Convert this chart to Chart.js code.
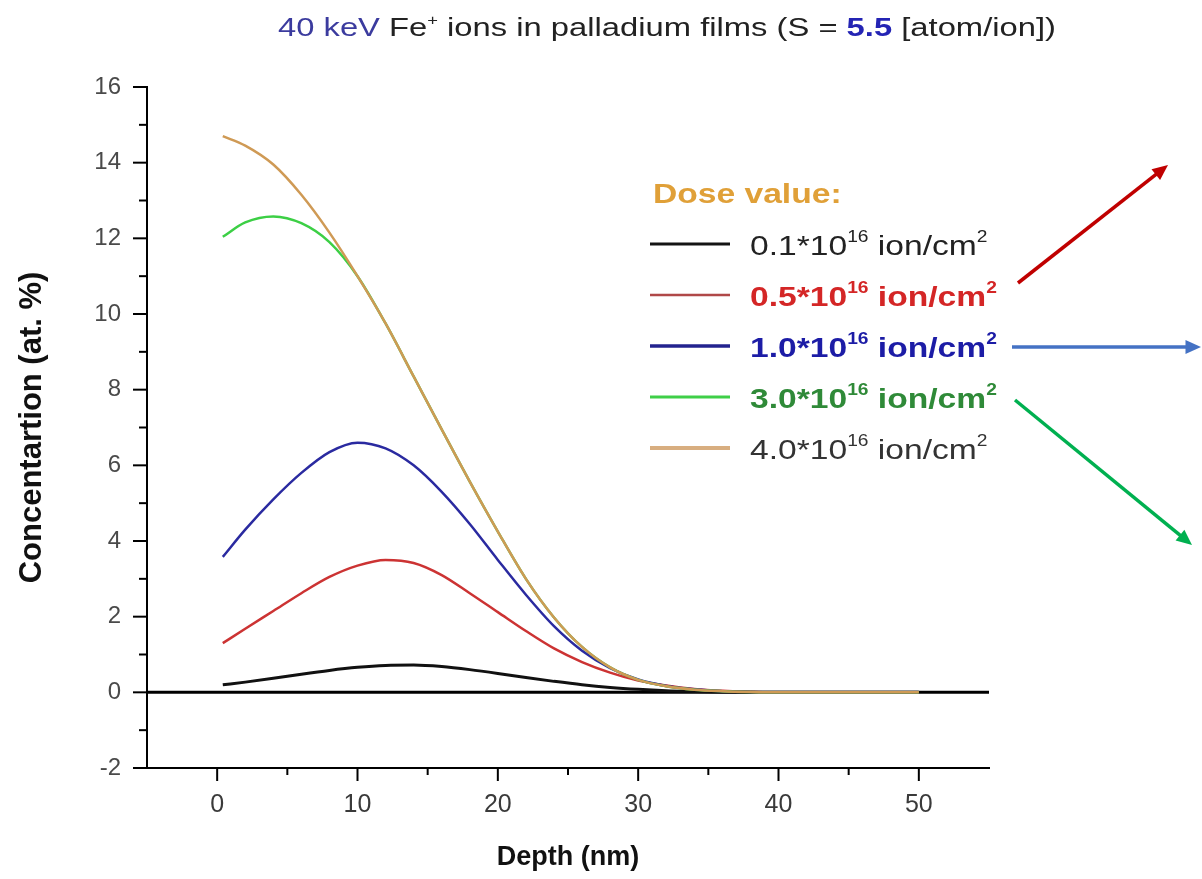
<!DOCTYPE html>
<html>
<head>
<meta charset="utf-8">
<script src="https://cdn.jsdelivr.net/npm/chart.js@4.4.1/dist/chart.umd.min.js"></script>
<style>
  html, body { margin: 0; padding: 0; background: #fff; }
  #wrap { width: 1202px; height: 879px; position: relative; }
</style>
</head>
<body>
<div id="wrap"><canvas id="depthChart"></canvas></div>
<script>
// Fe implantation profiles in Pd, concentration (at. %) vs depth (nm)
const depth = [0.4, 2, 4, 6, 8, 10, 12, 14, 16, 18, 20, 22, 24, 26, 28, 30, 32, 34, 36, 38, 40, 45, 50];
const dose01 = [0.2, 0.27, 0.37, 0.48, 0.58, 0.66, 0.71, 0.72, 0.68, 0.6, 0.5, 0.39, 0.29, 0.2, 0.13, 0.08, 0.045, 0.025, 0.01, 0.005, 0, 0, 0];
const dose05 = [1.3, 1.68, 2.15, 2.62, 3.05, 3.35, 3.5, 3.42, 3.1, 2.62, 2.12, 1.62, 1.16, 0.8, 0.52, 0.31, 0.18, 0.09, 0.04, 0.015, 0, 0, 0];
const dose10 = [3.58, 4.3, 5.1, 5.8, 6.35, 6.6, 6.45, 6.0, 5.3, 4.45, 3.5, 2.58, 1.75, 1.1, 0.64, 0.34, 0.17, 0.08, 0.03, 0.01, 0, 0, 0];
const dose30 = [12.04, 12.42, 12.58, 12.4, 11.9, 11.0, 9.75, 8.35, 6.95, 5.57, 4.25, 3.0, 1.98, 1.2, 0.66, 0.33, 0.16, 0.07, 0.03, 0.01, 0, 0, 0];
const dose40 = [14.7, 14.45, 13.95, 13.15, 12.15, 11.0, 9.75, 8.35, 6.95, 5.57, 4.25, 3.0, 1.98, 1.2, 0.66, 0.33, 0.16, 0.07, 0.03, 0.01, 0, 0, 0];
const doseNames = ["0.1", "0.5", "1.0", "3.0", "4.0"];
const depthTicks = [0, 10, 20, 30, 40, 50];
const concTicks = [-2, 0, 2, 4, 6, 8, 10, 12, 14, 16];

const FONT = "'Liberation Sans', Arial, sans-serif";
const toPoints = (ys) => depth.map((x, i) => ({ x: x, y: ys[i] }));

// text run with superscripts, optional horizontal stretch
function richText(ctx, x, y, parts, size, stretch) {
  ctx.save();
  ctx.translate(x, y);
  ctx.scale(stretch, 1);
  ctx.textBaseline = "alphabetic";
  ctx.textAlign = "left";
  let cx = 0;
  parts.forEach((p) => {
    const fs = p.sup ? Math.round(size * 0.58) : size;
    ctx.font = (p.bold ? "bold " : "") + fs + "px " + FONT;
    ctx.fillStyle = p.color;
    ctx.fillText(p.t, cx, p.sup ? -size * 0.45 : 0);
    cx += ctx.measureText(p.t).width;
  });
  ctx.restore();
}

function arrow(ctx, x1, y1, x2, y2, color) {
  const a = Math.atan2(y2 - y1, x2 - x1);
  const head = 17;
  ctx.save();
  ctx.strokeStyle = color;
  ctx.fillStyle = color;
  ctx.lineWidth = 3.5;
  ctx.beginPath();
  ctx.moveTo(x1, y1);
  ctx.lineTo(x2 - head * 0.8 * Math.cos(a), y2 - head * 0.8 * Math.sin(a));
  ctx.stroke();
  ctx.beginPath();
  ctx.moveTo(x2, y2);
  ctx.lineTo(x2 - head * Math.cos(a - 0.42), y2 - head * Math.sin(a - 0.42));
  ctx.lineTo(x2 - head * Math.cos(a + 0.42), y2 - head * Math.sin(a + 0.42));
  ctx.closePath();
  ctx.fill();
  ctx.restore();
}

const legendRows = [
  { line: "#141414", width: 3, text: "#222", bold: false },
  { line: "#b04848", width: 2.5, text: "#d42626", bold: true },
  { line: "#23238f", width: 3.5, text: "#1c1ca6", bold: true },
  { line: "#3fcf48", width: 3, text: "#2f8a38", bold: true },
  { line: "#d8ae80", width: 4, text: "#333", bold: false },
];

const decorPlugin = {
  id: "decorPlugin",
  beforeDatasetsDraw(chart) {
    const { ctx, chartArea, scales } = chart;
    // zero reference line
    const y0 = scales.y.getPixelForValue(0);
    ctx.save();
    ctx.strokeStyle = "#000";
    ctx.lineWidth = 3;
    ctx.beginPath();
    ctx.moveTo(chartArea.left, y0);
    ctx.lineTo(chartArea.right, y0);
    ctx.stroke();

    // tick marks, long at labelled values, short in between
    ctx.lineWidth = 2;
    scales.y.ticks.forEach((t) => {
      const py = scales.y.getPixelForValue(t.value);
      const len = concTicks.includes(t.value) ? 14 : 8;
      ctx.beginPath();
      ctx.moveTo(chartArea.left - len, py);
      ctx.lineTo(chartArea.left, py);
      ctx.stroke();
    });
    scales.x.ticks.forEach((t) => {
      if (t.value <= -5 || t.value >= 55) return;
      const px = scales.x.getPixelForValue(t.value);
      const len = depthTicks.includes(t.value) ? 13 : 7;
      ctx.beginPath();
      ctx.moveTo(px, chartArea.bottom);
      ctx.lineTo(px, chartArea.bottom + len);
      ctx.stroke();
    });
    ctx.restore();
  },
  afterDraw(chart) {
    const { ctx } = chart;
    // title
    richText(ctx, 278, 36, [
      { t: "40 keV", color: "#3b3b9e" },
      { t: " Fe", color: "#222" },
      { t: "+", sup: true, color: "#222" },
      { t: " ions in palladium films (S = ", color: "#222" },
      { t: "5.5", bold: true, color: "#2424b4" },
      { t: " [atom/ion])", color: "#222" },
    ], 25, 1.31);

    // legend
    richText(ctx, 653, 203, [{ t: "Dose value:", bold: true, color: "#e0a038" }], 28, 1.2);
    legendRows.forEach((r, i) => {
      const y = 244 + i * 51;
      ctx.save();
      ctx.strokeStyle = r.line;
      ctx.lineWidth = r.width;
      ctx.beginPath();
      ctx.moveTo(650, y);
      ctx.lineTo(730, y);
      ctx.stroke();
      ctx.restore();
      richText(ctx, 750, y + 11, [
        { t: doseNames[i] + "*10", bold: r.bold, color: r.text },
        { t: "16", sup: true, bold: r.bold, color: r.text },
        { t: " ion/cm", bold: r.bold, color: r.text },
        { t: "2", sup: true, bold: r.bold, color: r.text },
      ], 28, 1.2);
    });

    // pointers
    arrow(ctx, 1018, 283, 1168, 165, "#c00000");
    arrow(ctx, 1012, 347, 1201, 347, "#4472c4");
    arrow(ctx, 1015, 400, 1192, 545, "#00b050");
  },
};

const lineStyle = { fill: false, pointRadius: 0, borderWidth: 2.5, cubicInterpolationMode: "monotone" };

new Chart(document.getElementById("depthChart"), {
  type: "line",
  data: {
    datasets: [
      { label: doseNames[4], data: toPoints(dose40), borderColor: "#cf9a55", order: 0, ...lineStyle },
      { label: doseNames[3], data: toPoints(dose30), borderColor: "#3ccf45", order: 1, ...lineStyle },
      { label: doseNames[2], data: toPoints(dose10), borderColor: "#2a2aa0", order: 2, ...lineStyle },
      { label: doseNames[1], data: toPoints(dose05), borderColor: "#cc3333", order: 3, ...lineStyle },
      { label: doseNames[0], data: toPoints(dose01), borderColor: "#111111", order: 4, ...lineStyle, borderWidth: 3 },
    ],
  },
  options: {
    responsive: true,
    maintainAspectRatio: false,
    animation: false,
    layout: { padding: { top: 87, right: 213, left: 0, bottom: 0 } },
    plugins: {
      legend: { display: false },
      tooltip: { enabled: false },
    },
    scales: {
      x: {
        type: "linear",
        min: -5,
        max: 55,
        afterFit: (scale) => { scale.height = 111; },
        grid: { display: false, drawTicks: false },
        border: { display: true, color: "#000", width: 2 },
        ticks: {
          stepSize: 5,
          autoSkip: false,
          maxRotation: 0,
          padding: 22,
          color: "#3a3a3a",
          font: { family: FONT, size: 25 },
          callback: (v) => (depthTicks.includes(v) ? String(v) : ""),
        },
        title: {
          display: true,
          text: "Depth (nm)",
          color: "#111",
          font: { family: FONT, size: 27, weight: "bold" },
          padding: { top: 0, bottom: 5 },
        },
      },
      y: {
        min: -2,
        max: 16,
        afterFit: (scale) => { scale.width = 147; },
        grid: { display: false, drawTicks: false },
        border: { display: true, color: "#000", width: 2 },
        ticks: {
          stepSize: 1,
          autoSkip: false,
          padding: 26,
          color: "#4a4a4a",
          font: { family: FONT, size: 24 },
          callback: (v) => (concTicks.includes(v) ? String(v) : ""),
        },
        title: {
          display: true,
          text: "Concentartion (at. %)",
          color: "#111",
          font: { family: FONT, size: 31, weight: "bold" },
          padding: { top: 14, bottom: 0 },
        },
      },
    },
  },
  plugins: [decorPlugin],
});
</script>
</body>
</html>
